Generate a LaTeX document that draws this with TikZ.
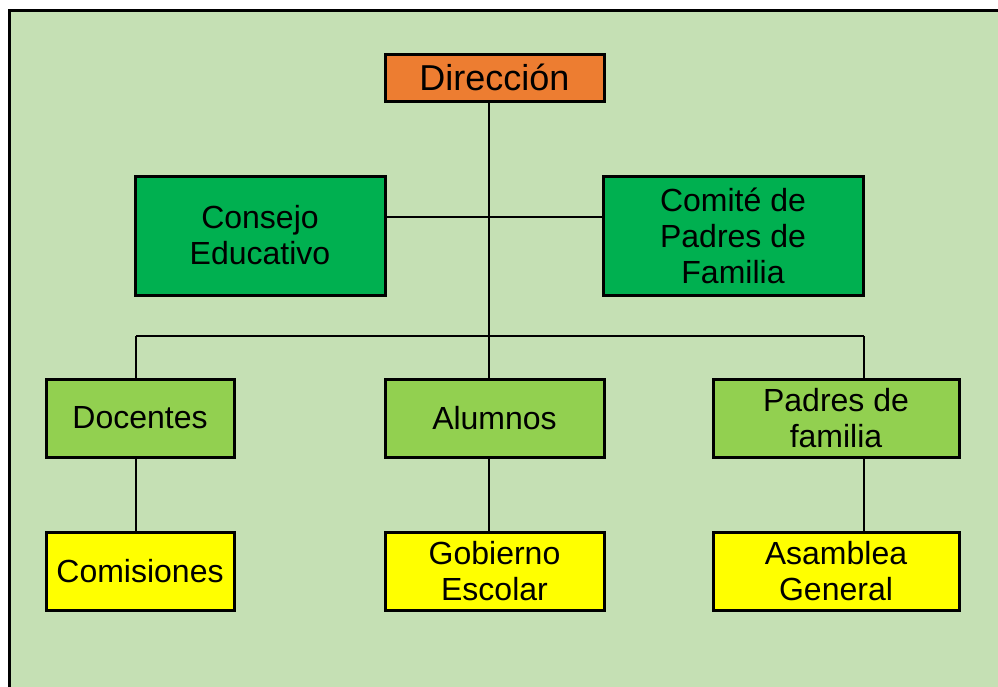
\documentclass[tikz,border=0pt]{standalone}
\usepackage{fontspec}
\setmainfont{Liberation Sans}
\definecolor{bg}{HTML}{C5E0B4}
\definecolor{orng}{HTML}{ED7D31}
\definecolor{dgreen}{HTML}{00B050}
\definecolor{lgreen}{HTML}{92D050}
\definecolor{yel}{HTML}{FFFF00}
\begin{document}
\begin{tikzpicture}[x=1pt,y=-1pt,
  box/.style={draw=black,line width=3pt,align=center,inner sep=0pt,font=\fontsize{32}{36}\selectfont},
  conn/.style={line width=1.5pt}]
\useasboundingbox (0,0) rectangle (998,686);
\fill[white] (0,0) rectangle (998,686);
\draw[line width=3pt,fill=bg] (9.5,10.5) rectangle (1010,700);
% nodes
\node[box,fill=orng,minimum width=219pt,minimum height=47pt,font=\fontsize{36}{40}\selectfont] (dir) at (494.5,77.5) {Dirección};
\node[box,fill=dgreen,minimum width=250pt,minimum height=119pt] (cons) at (260,235.5) {Consejo\\Educativo};
\node[box,fill=dgreen,minimum width=260pt,minimum height=119pt] (com) at (733,235.5) {Comité de\\Padres de\\Familia};
\node[box,fill=lgreen,minimum width=188pt,minimum height=78pt] (doc) at (140,418) {Docentes};
\node[box,fill=lgreen,minimum width=219pt,minimum height=78pt] (alu) at (494.5,418) {Alumnos};
\node[box,fill=lgreen,minimum width=246pt,minimum height=78pt] (pad) at (836,418) {Padres de\\familia};
\node[box,fill=yel,minimum width=188pt,minimum height=78pt] (comi) at (140,571) {Comisiones};
\node[box,fill=yel,minimum width=219pt,minimum height=78pt] (gob) at (494.5,571) {Gobierno\\Escolar};
\node[box,fill=yel,minimum width=246pt,minimum height=78pt] (asa) at (836,571) {Asamblea\\General};
% connectors
\coordinate (bus) at (489,336);
\coordinate (busl) at (136,336);
\coordinate (busr) at (864,336);
\draw[conn] (dir.south -| bus) -- (bus);
\draw[conn] (cons.east |- 0,217) -- (com.west |- 0,217);
\draw[conn] (busl) -- (busr);
\draw[conn] (busl) -- (doc.north -| busl);
\draw[conn] (bus) -- (alu.north -| bus);
\draw[conn] (busr) -- (pad.north -| busr);
\draw[conn] (doc.south -| busl) -- (comi.north -| busl);
\draw[conn] (alu.south -| bus) -- (gob.north -| bus);
\draw[conn] (pad.south -| busr) -- (asa.north -| busr);
\end{tikzpicture}
\end{document}
